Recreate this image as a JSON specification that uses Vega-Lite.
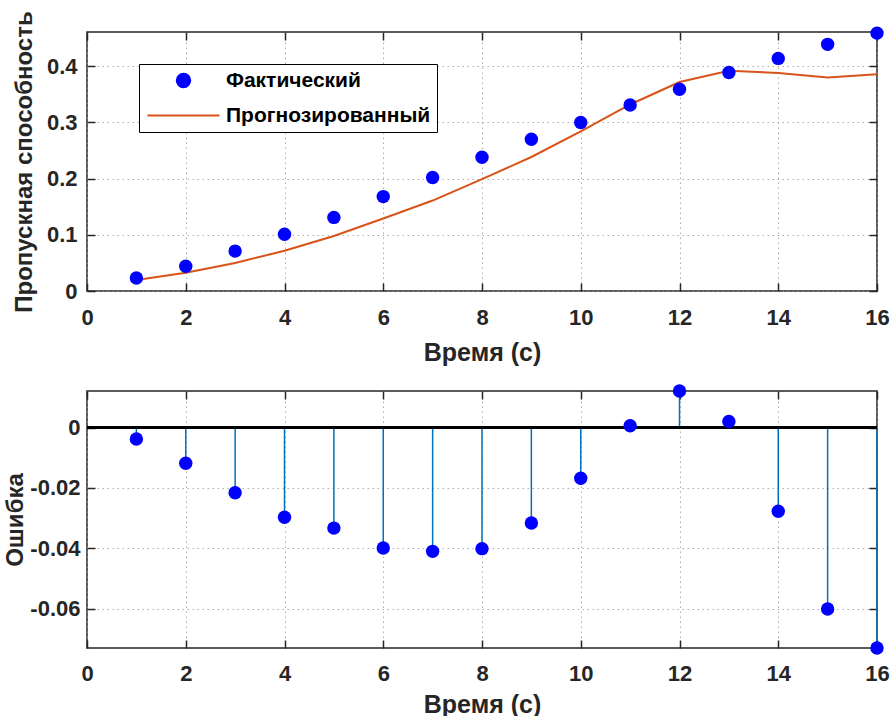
{
  "$schema": "https://vega.github.io/schema/vega-lite/v6.json",
  "background": "white",
  "padding": {"left": 3, "top": 10, "right": 2, "bottom": 5},
  "spacing": 17,
  "datasets": {
    "top": [
      {"t": 1, "series": "Фактический", "value": 0.023},
      {"t": 2, "series": "Фактический", "value": 0.044},
      {"t": 3, "series": "Фактический", "value": 0.071},
      {"t": 4, "series": "Фактический", "value": 0.101},
      {"t": 5, "series": "Фактический", "value": 0.131},
      {"t": 6, "series": "Фактический", "value": 0.168},
      {"t": 7, "series": "Фактический", "value": 0.202},
      {"t": 8, "series": "Фактический", "value": 0.238},
      {"t": 9, "series": "Фактический", "value": 0.270},
      {"t": 10, "series": "Фактический", "value": 0.300},
      {"t": 11, "series": "Фактический", "value": 0.331},
      {"t": 12, "series": "Фактический", "value": 0.359},
      {"t": 13, "series": "Фактический", "value": 0.389},
      {"t": 14, "series": "Фактический", "value": 0.414},
      {"t": 15, "series": "Фактический", "value": 0.439},
      {"t": 16, "series": "Фактический", "value": 0.459},
      {"t": 1, "series": "Прогнозированный", "value": 0.0195},
      {"t": 2, "series": "Прогнозированный", "value": 0.0325},
      {"t": 3, "series": "Прогнозированный", "value": 0.050},
      {"t": 4, "series": "Прогнозированный", "value": 0.0715},
      {"t": 5, "series": "Прогнозированный", "value": 0.098},
      {"t": 6, "series": "Прогнозированный", "value": 0.129},
      {"t": 7, "series": "Прогнозированный", "value": 0.161},
      {"t": 8, "series": "Прогнозированный", "value": 0.199},
      {"t": 9, "series": "Прогнозированный", "value": 0.2385},
      {"t": 10, "series": "Прогнозированный", "value": 0.284},
      {"t": 11, "series": "Прогнозированный", "value": 0.332},
      {"t": 12, "series": "Прогнозированный", "value": 0.372},
      {"t": 13, "series": "Прогнозированный", "value": 0.392},
      {"t": 14, "series": "Прогнозированный", "value": 0.388},
      {"t": 15, "series": "Прогнозированный", "value": 0.380},
      {"t": 16, "series": "Прогнозированный", "value": 0.386}
    ],
    "err": [
      {"t": 1, "error": -0.0038},
      {"t": 2, "error": -0.0118},
      {"t": 3, "error": -0.0216},
      {"t": 4, "error": -0.0297},
      {"t": 5, "error": -0.0333},
      {"t": 6, "error": -0.0399},
      {"t": 7, "error": -0.0410},
      {"t": 8, "error": -0.0401},
      {"t": 9, "error": -0.0316},
      {"t": 10, "error": -0.0168},
      {"t": 11, "error": 0.0006},
      {"t": 12, "error": 0.0121},
      {"t": 13, "error": 0.0020},
      {"t": 14, "error": -0.0277},
      {"t": 15, "error": -0.0601},
      {"t": 16, "error": -0.0730}
    ]
  },
  "config": {
    "font": "Liberation Sans",
    "view": {"stroke": "#262626", "strokeWidth": 1.5},
    "axis": {
      "labelFont": "Liberation Sans",
      "labelFontSize": 22,
      "labelFontWeight": "bold",
      "labelColor": "#262626",
      "labelFlush": false,
      "titleFont": "Liberation Sans",
      "titleFontSize": 24,
      "titleFontWeight": "bold",
      "titleColor": "#262626",
      "domain": false,
      "tickColor": "#262626",
      "tickSize": -8,
      "tickWidth": 1.5,
      "gridColor": "#9a9a9a",
      "gridDash": [1.5, 3.5],
      "gridWidth": 1,
      "gridOpacity": 0.8
    }
  },
  "vconcat": [
    {
      "width": 790,
      "height": 259,
      "data": {"name": "top"},
      "layer": [
        {
          "transform": [{"filter": "datum.series === 'Прогнозированный'"}],
          "mark": {"type": "line", "strokeWidth": 2},
          "encoding": {
            "x": {"field": "t", "type": "quantitative", "scale": {"domain": [0, 16], "nice": false, "zero": false},
                  "axis": {"orient": "bottom", "values": [0, 2, 4, 6, 8, 10, 12, 14, 16], "title": "Время (с)", "titleFontSize": 25, "labelPadding": 24, "titlePadding": 12, "grid": true}},
            "y": {"field": "value", "type": "quantitative", "scale": {"domain": [0, 0.461], "nice": false},
                  "axis": {"orient": "left", "values": [0, 0.1, 0.2, 0.3, 0.4], "labelExpr": "'' + datum.value", "title": "Пропускная способность", "labelPadding": 18, "titlePadding": 10, "grid": true}},
            "color": {"field": "series", "type": "nominal",
                      "scale": {"domain": ["Фактический", "Прогнозированный"], "range": ["#0000FF", "#D95319"]},
                      "legend": {"title": null, "orient": "none", "legendX": 52, "legendY": 32,
                                 "strokeColor": "black", "fillColor": "white", "padding": 6,
                                 "labelFont": "Liberation Sans", "labelFontSize": 21, "labelFontWeight": "bold", "labelColor": "black",
                                 "labelLimit": 400, "symbolSize": 180, "symbolOffset": 28,
                                 "symbolStrokeWidth": 2, "rowPadding": 12, "labelOffset": 32,
                                 "encode": {"symbols": {"update": {
                                   "stroke": {"scale": "color", "field": "value"},
                                   "shape": {"signal": "datum.value === 'Прогнозированный' ? 'stroke' : 'circle'"},
                                   "size": {"signal": "datum.value === 'Прогнозированный' ? 5184 : 180"}
                                 }}}}}
          }
        },
        {
          "transform": [{"filter": "datum.series === 'Фактический'"}],
          "mark": {"type": "point", "filled": true, "opacity": 1, "size": 180, "shape": "circle"},
          "encoding": {
            "x": {"field": "t", "type": "quantitative", "axis": {"orient": "top", "values": [0, 2, 4, 6, 8, 10, 12, 14, 16], "labels": false, "title": null, "grid": false}},
            "y": {"field": "value", "type": "quantitative", "axis": {"orient": "right", "values": [0, 0.1, 0.2, 0.3, 0.4], "labels": false, "title": null, "grid": false}},
            "color": {"field": "series", "type": "nominal"}
          }
        }
      ]
    },
    {
      "width": 790,
      "height": 257,
      "data": {"name": "err"},
      "layer": [
        {
          "mark": {"type": "rule", "color": "#0072BD", "strokeWidth": 1.5},
          "encoding": {
            "x": {"field": "t", "type": "quantitative", "scale": {"domain": [0, 16], "nice": false, "zero": false},
                  "axis": {"orient": "bottom", "values": [0, 2, 4, 6, 8, 10, 12, 14, 16], "title": "Время (с)", "titleFontSize": 25, "labelPadding": 23, "titlePadding": 8, "grid": true}},
            "y": {"field": "error", "type": "quantitative", "scale": {"domain": [-0.073, 0.0121], "nice": false, "zero": false},
                  "axis": {"orient": "left", "values": [-0.06, -0.04, -0.02, 0], "labelExpr": "'' + datum.value", "title": "Ошибка", "labelPadding": 15, "titlePadding": 2, "grid": true}},
            "y2": {"datum": 0}
          }
        },
        {
          "mark": {"type": "rule", "color": "black", "strokeWidth": 1.5},
          "encoding": {"y": {"datum": 0, "axis": null}}
        },
        {
          "mark": {"type": "point", "filled": true, "opacity": 1, "color": "#0000FF", "size": 180},
          "encoding": {
            "x": {"field": "t", "type": "quantitative", "axis": {"orient": "top", "values": [0, 2, 4, 6, 8, 10, 12, 14, 16], "labels": false, "title": null, "grid": false}},
            "y": {"field": "error", "type": "quantitative", "axis": {"orient": "right", "values": [-0.06, -0.04, -0.02, 0], "labels": false, "title": null, "grid": false}}
          }
        }
      ]
    }
  ]
}
